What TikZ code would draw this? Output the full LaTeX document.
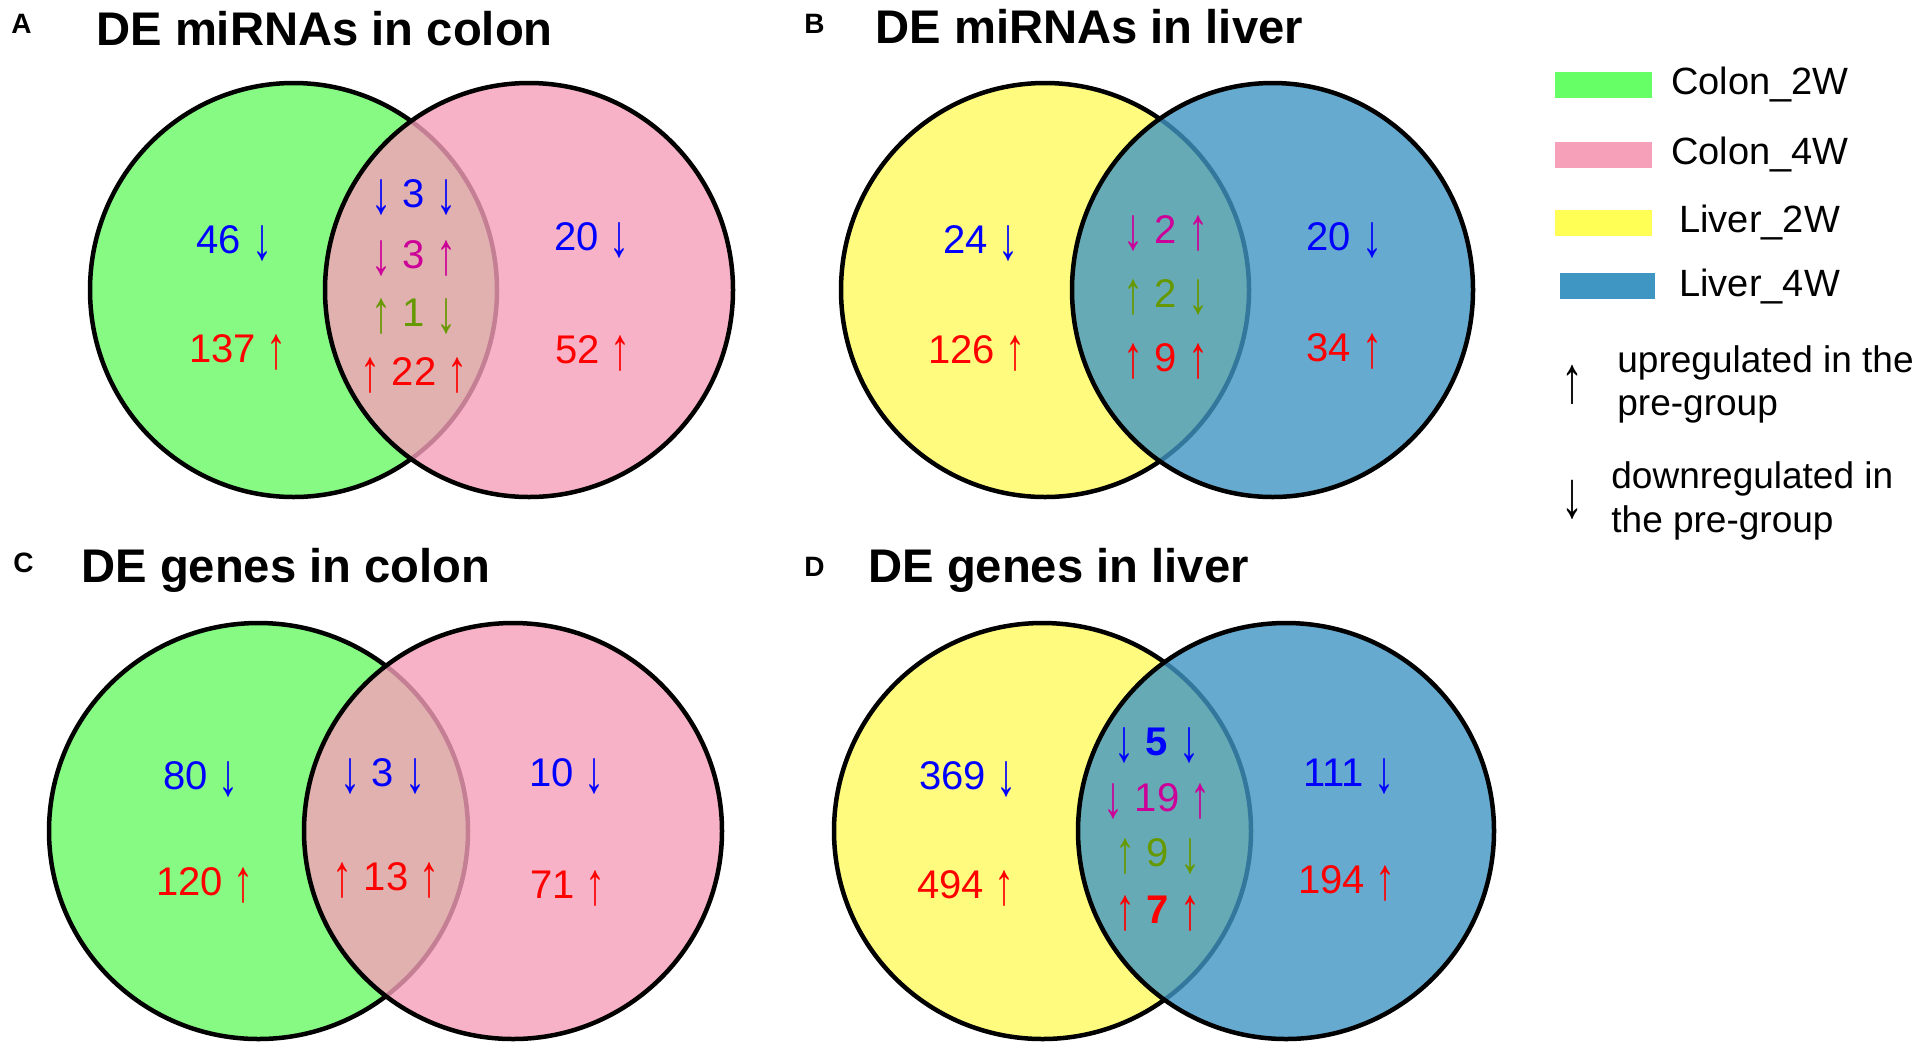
\documentclass[tikz,border=0pt]{standalone}
\usepackage{fontspec}
\usepackage{graphicx}
\setmainfont{Liberation Sans}
\definecolor{cgreen}{RGB}{134,250,130}
\definecolor{cpink}{RGB}{247,159,186}
\definecolor{cyellow}{RGB}{255,251,127}
\definecolor{cblue}{RGB}{64,150,195}
\definecolor{lgreen}{RGB}{102,255,102}
\definecolor{lpink}{RGB}{247,160,186}
\definecolor{lyellow}{RGB}{255,255,85}
\definecolor{lblue}{RGB}{64,150,195}
\definecolor{tblue}{RGB}{0,0,255}
\definecolor{tred}{RGB}{255,0,0}
\definecolor{tmag}{RGB}{204,0,153}
\definecolor{tolive}{RGB}{102,153,0}
\newsavebox\arrbox
\newcommand{\tarr}[1]{\sbox\arrbox{#1}\raisebox{-0.21em}{\resizebox*{\wd\arrbox}{0.89em}{\raisebox{\dp\arrbox}{\usebox\arrbox}}}}
\newcommand{\UA}{\tarr{↑}}
\newcommand{\DA}{\tarr{↓}}
\tikzset{
  num/.style={inner sep=0pt, anchor=base, font=\fontsize{20pt}{24pt}\selectfont},
  ptitle/.style={inner sep=0pt, anchor=base west, font=\bfseries\fontsize{23.6pt}{28pt}\selectfont},
  plabel/.style={inner sep=0pt, anchor=base west, font=\bfseries\fontsize{14pt}{16pt}\selectfont},
  leglab/.style={inner sep=0pt, anchor=west, font=\fontsize{19pt}{23pt}\selectfont},
  legtxt/.style={inner sep=0pt, anchor=base west, font=\fontsize{18.5pt}{22pt}\selectfont},
  legarrow/.style={inner sep=0pt, anchor=center, font=\fontsize{22pt}{26pt}\selectfont},
  venn/.style={line width=2.25pt, draw=black},
  vennR/.style={venn, fill opacity=0.8, draw opacity=1},
}
\begin{document}
\begin{tikzpicture}[x=0.5pt, y=-0.5pt]
\useasboundingbox (0,0) rectangle (1925,1045);
\fill[white] (0,0) rectangle (1925,1045);

% ---------- Panel A ----------
\node[plabel] (labA) at (11,33) {A};
\node[ptitle] (titA) at (96,45) {DE miRNAs in colon};
\draw[venn, fill=cgreen] (293.5,290) ellipse [x radius=101.75pt, y radius=103.5pt];
\draw[vennR, fill=cpink] (529,290) ellipse [x radius=102pt, y radius=103.5pt];
\node[num, text=tblue] (a1) at (234.5,253) {46 \DA};
\node[num, text=tred]  (a2) at (238,362) {137 \UA};
\node[num, text=tblue] (a3) at (414,207) {\DA\ 3 \DA};
\node[num, text=tmag]  (a4) at (414,268) {\DA\ 3 \UA};
\node[num, text=tolive] (a5) at (414,326) {\UA\ 1 \DA};
\node[num, text=tred]  (a6) at (414,385) {\UA\ 22 \UA};
\node[num, text=tblue] (a7) at (592,250) {20 \DA};
\node[num, text=tred]  (a8) at (593,363) {52 \UA};

% ---------- Panel B ----------
\node[plabel] (labB) at (804,33) {B};
\node[ptitle] (titB) at (875,43) {DE miRNAs in liver};
\draw[venn, fill=cyellow] (1045,290) ellipse [x radius=102pt, y radius=103.5pt];
\draw[vennR, fill=cblue] (1272.5,290) ellipse [x radius=100.25pt, y radius=103.5pt];
\node[num, text=tblue] (b1) at (981,253) {24 \DA};
\node[num, text=tred]  (b2) at (977,363) {126 \UA};
\node[num, text=tmag]  (b3) at (1166,243) {\DA\ 2 \UA};
\node[num, text=tolive] (b4) at (1166,307) {\UA\ 2 \DA};
\node[num, text=tred]  (b5) at (1166,371) {\UA\ 9 \UA};
\node[num, text=tblue] (b6) at (1344.5,250) {20 \DA};
\node[num, text=tred]  (b7) at (1344.5,361) {34 \UA};

% ---------- Panel C ----------
\node[plabel] (labC) at (13,572) {C};
\node[ptitle] (titC) at (81,582) {DE genes in colon};
\draw[venn, fill=cgreen] (258.5,831) ellipse [x radius=104.75pt, y radius=104pt];
\draw[vennR, fill=cpink] (513,831) ellipse [x radius=104.5pt, y radius=104pt];
\node[num, text=tblue] (c1) at (201,789) {80 \DA};
\node[num, text=tred]  (c2) at (205,895) {120 \UA};
\node[num, text=tblue] (c3) at (383,786) {\DA\ 3 \DA};
\node[num, text=tred]  (c4) at (386,890) {\UA\ 13 \UA};
\node[num, text=tblue] (c5) at (567,786) {10 \DA};
\node[num, text=tred]  (c6) at (568,898) {71 \UA};

% ---------- Panel D ----------
\node[plabel] (labD) at (804,576) {D};
\node[ptitle] (titD) at (868,582) {DE genes in liver};
\draw[venn, fill=cyellow] (1042.5,831) ellipse [x radius=104.25pt, y radius=104pt];
\draw[vennR, fill=cblue] (1286,831) ellipse [x radius=104pt, y radius=104pt];
\node[num, text=tblue] (d1) at (968,789) {369 \DA};
\node[num, text=tred]  (d2) at (966,898) {494 \UA};
\node[num, text=tblue] (d3) at (1157,755) {\DA\ \textbf{5} \DA};
\node[num, text=tmag]  (d4) at (1157,811) {\DA\ 19 \UA};
\node[num, text=tolive] (d5) at (1158,866) {\UA\ 9 \DA};
\node[num, text=tred]  (d6) at (1158,923) {\UA\ \textbf{7} \UA};
\node[num, text=tblue] (d7) at (1349,786) {111 \DA};
\node[num, text=tred]  (d8) at (1347,893) {194 \UA};

% ---------- Legend ----------
\fill[lgreen]  (1555,72) rectangle (1652,98);
\fill[lpink]   (1555,142) rectangle (1652,168);
\fill[lyellow] (1555,210) rectangle (1652,236);
\fill[lblue]   (1560,273) rectangle (1655,299);
\node[leglab] (l1) at (1671,85) {Colon\_2W};
\node[leglab] (l2) at (1671,155) {Colon\_4W};
\node[leglab] (l3) at (1679,223) {Liver\_2W};
\node[leglab] (l4) at (1679,286) {Liver\_4W};
\node[legarrow] (up) at (1572,385) {\UA};
\node[legtxt] (u1) at (1617,372) {upregulated in the};
\node[legtxt] (u2) at (1617,415) {pre-group};
\node[legarrow] (dn) at (1572,500) {\DA};
\node[legtxt] (d1t) at (1611,488) {downregulated in};
\node[legtxt] (d2t) at (1611,532) {the pre-group};
\end{tikzpicture}
\end{document}
